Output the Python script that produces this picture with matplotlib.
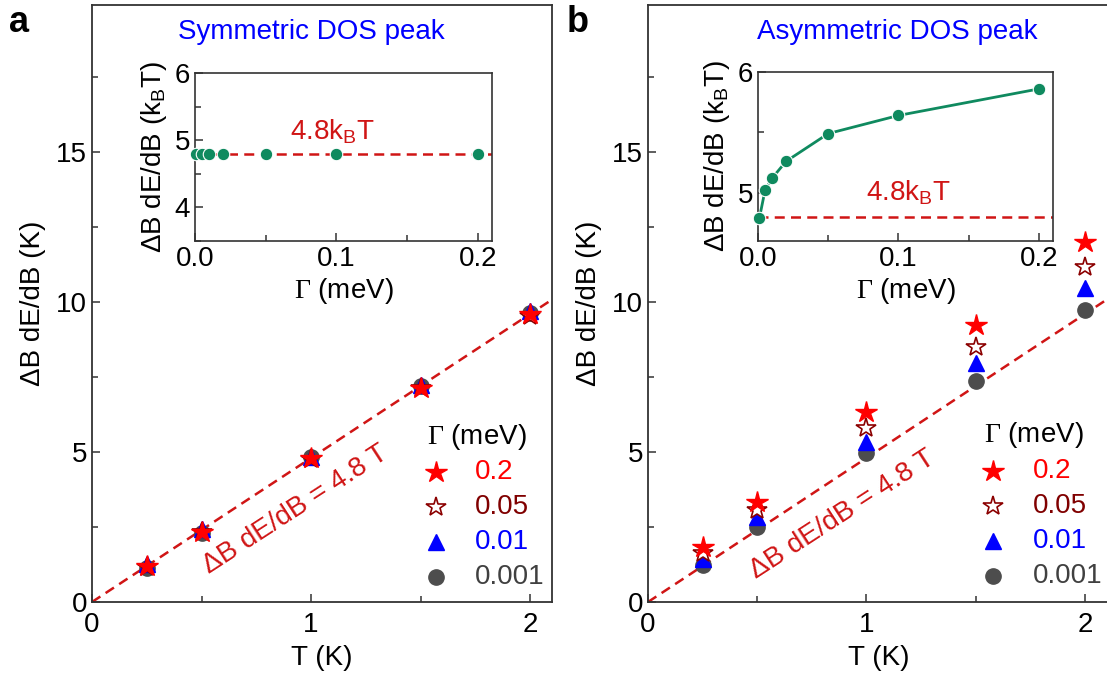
import numpy as np
import matplotlib.pyplot as plt
from matplotlib.ticker import MultipleLocator

plt.rcParams['font.family'] = ['Liberation Sans', 'DejaVu Sans']
plt.rcParams['mathtext.fontset'] = 'custom'
plt.rcParams['mathtext.rm'] = 'Liberation Serif'
plt.rcParams['mathtext.sf'] = 'Liberation Sans'
plt.rcParams['mathtext.it'] = 'Liberation Sans:italic'

# temperatures (K)
T = [0.25, 0.5, 1.0, 1.5, 2.0]
gammas = ['0.2', '0.05', '0.01', '0.001']

# panel a: symmetric DOS peak, dB dE/dB (K)
sym_02 = [1.2, 2.35, 4.8, 7.15, 9.6]
sym_005 = [1.18, 2.35, 4.78, 7.15, 9.55]
sym_001 = [1.28, 2.42, 4.85, 7.25, 9.7]
sym_0001 = [1.15, 2.3, 4.85, 7.2, 9.65]

# panel b: asymmetric DOS peak
asym_02 = [1.84, 3.34, 6.34, 9.23, 12.0]
asym_005 = [1.62, 3.07, 5.79, 8.51, 11.18]
asym_001 = [1.45, 2.84, 5.34, 7.96, 10.46]
asym_0001 = [1.23, 2.51, 4.96, 7.37, 9.73]

# insets: dB dE/dB in units of kB T vs Gamma (meV)
gam_in = [0.001, 0.005, 0.01, 0.02, 0.05, 0.1, 0.2]
sym_in = [4.8, 4.8, 4.8, 4.8, 4.8, 4.8, 4.8]
asym_in = [4.79, 5.02, 5.12, 5.26, 5.49, 5.64, 5.86]

slope = 4.8
fit_T = [0, 2.2]

dred = '#d01515'
green = '#0f8a5f'
fs = 20

fig = plt.figure(figsize=(11.07, 6.74), dpi=100)
W, H = 1107, 674


def px_axes(x0, x1, y0, y1):
    return fig.add_axes([x0 / W, (H - y1) / H, (x1 - x0) / W, (y1 - y0) / H])


def style(ax, lw=1.3):
    for s in ax.spines.values():
        s.set_linewidth(lw)
        s.set_color('#333333')
    ax.tick_params(which='both', direction='in', labelsize=fs, width=1.1, color='#333333')
    ax.tick_params(which='major', length=6)
    ax.tick_params(which='minor', length=4)


def main_panel(ax, data, xr, label_xy):
    style(ax)
    ax.tick_params(axis='x', which='major', pad=7)
    ax.plot(fit_T, [slope * t for t in fit_T], ls=(0, (4, 2.5)), color=dred, lw=1.8, zorder=1)
    ax.plot(T, data[3], 'o', color='#4d4d4d', ms=11, ls='none', zorder=2)
    ax.plot(T, data[2], '^', color='#0000ff', ms=12, ls='none', zorder=3)
    ax.plot(T, data[1], '*', mfc='white', mec='#8b0000', mew=1.2, ms=15, ls='none', zorder=4)
    ax.plot(T, data[0], '*', color='#ff0000', ms=16, ls='none', zorder=5)
    ax.set_xlim(0, xr)
    ax.set_ylim(0, 19.9)
    ax.xaxis.set_major_locator(MultipleLocator(1))
    ax.xaxis.set_minor_locator(MultipleLocator(0.5))
    ax.yaxis.set_major_locator(MultipleLocator(5))
    ax.yaxis.set_minor_locator(MultipleLocator(2.5))
    ax.set_xlabel('T (K)', fontsize=fs, labelpad=5)
    ax.set_ylabel('ΔB dE/dB (K)', fontsize=fs, labelpad=7)
    ax.text(label_xy[0], label_xy[1], 'ΔB dE/dB = 4.8 T', color=dred, fontsize=fs,
            rotation=33, ha='center', va='center')


def legend(ax, x_mark, x_text, y_head):
    ax.text(x_mark - 0.04, y_head, r'$\mathrm{\Gamma}$ (meV)', fontsize=fs, va='center')
    ys = [y_head - 1.17 * (i + 1) for i in range(4)]
    ax.plot([x_mark], [ys[0]], '*', color='#ff0000', ms=16, clip_on=False)
    ax.plot([x_mark], [ys[1]], '*', mfc='white', mec='#8b0000', mew=1.2, ms=15, clip_on=False)
    ax.plot([x_mark], [ys[2]], '^', color='#0000ff', ms=12, clip_on=False)
    ax.plot([x_mark], [ys[3]], 'o', color='#4d4d4d', ms=11, clip_on=False)
    cols = ['#ff0000', '#800000', '#0000ff', '#404040']
    for g, y, c in zip(gammas, ys, cols):
        ax.text(x_text, y, g, color=c, fontsize=fs, va='center')


def inset(ax, vals, ylim, line, txt_xy):
    style(ax, lw=1.2)
    ax.axhline(4.8, ls=(0, (4, 2.5)), color=dred, lw=1.8, zorder=1)
    ax.plot(gam_in, vals, 'o', ls='-' if line else 'none', color=green, lw=2,
            ms=9, mec='white', mew=0.8, clip_on=False, zorder=3)
    ax.set_xlim(0, 0.21)
    ax.set_ylim(*ylim)
    ax.xaxis.set_major_locator(MultipleLocator(0.1))
    ax.xaxis.set_minor_locator(MultipleLocator(0.05))
    ax.yaxis.set_major_locator(MultipleLocator(1))
    ax.yaxis.set_minor_locator(MultipleLocator(0.5))
    ax.xaxis.set_major_formatter(lambda v, p: f'{v:.1f}')
    ax.yaxis.set_major_formatter(lambda v, p: f'{v:.0f}')
    ax.set_xlabel(r'$\mathrm{\Gamma}$ (meV)', fontsize=fs, labelpad=3)
    ax.set_ylabel(r'ΔB dE/dB (k$_\mathsf{B}$T)', fontsize=fs, labelpad=4)
    ax.text(txt_xy[0], txt_xy[1], r'4.8k$_\mathsf{B}$T', color=dred, fontsize=fs,
            ha='center', va='center')


axa = px_axes(92, 552, 5, 602)
main_panel(axa, [sym_02, sym_005, sym_001, sym_0001], 2.1, (0.93, 3.07))
legend(axa, 1.57, 1.75, 5.5)
axa.text(1.0, 19.0, 'Symmetric DOS peak', color='#0000ff', fontsize=fs, ha='center', va='center')

axb = px_axes(648, 1110, 5, 602)
main_panel(axb, [asym_02, asym_005, asym_001, asym_0001], 2.115, (0.89, 2.93))
legend(axb, 1.58, 1.76, 5.55)
axb.text(1.14, 19.0, 'Asymmetric DOS peak', color='#0000ff', fontsize=fs, ha='center', va='center')

fig.text(9 / W, 1 - 22 / H, 'a', fontsize=26, fontweight='bold', va='center')
fig.text(567 / W, 1 - 22 / H, 'b', fontsize=26, fontweight='bold', va='center')

ina = px_axes(195, 492, 73, 241)
inset(ina, sym_in, (3.5, 6), False, (0.097, 5.12))

inb = px_axes(758, 1053, 72, 241)
inset(inb, asym_in, (4.6, 6), True, (0.107, 5.0))

fig.savefig('out.png', dpi=100)
